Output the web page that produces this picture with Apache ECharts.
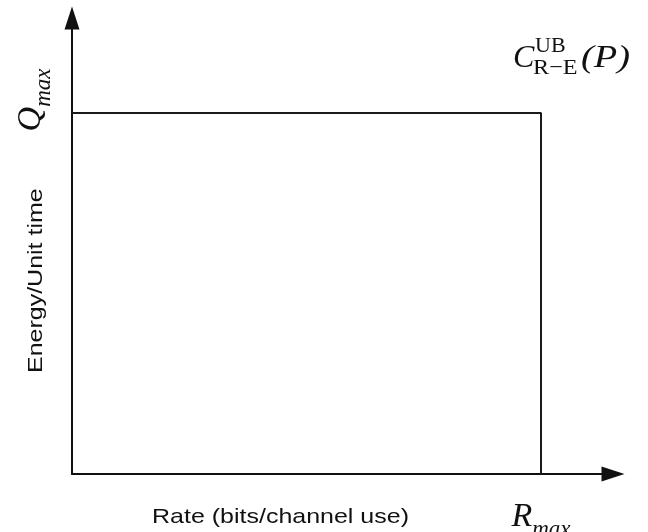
<!DOCTYPE html>
<html>
<head>
<meta charset="utf-8">
<script src="https://cdn.jsdelivr.net/npm/echarts@6/dist/echarts.min.js"></script>
<style>
  html, body { margin: 0; padding: 0; background: #fff; }
  #main { width: 648px; height: 532px; }
</style>
</head>
<body>
<div id="main"></div>
<script>
// rate-energy region, normalised so that Rmax = 1 and Qmax = 1
var rateMax = 1;
var energyMax = 1;
var boundaryRate = [0, rateMax, rateMax];
var boundaryEnergy = [energyMax, energyMax, 0];
// the only labelled ticks
var xTicks = [rateMax];
var yTicks = [energyMax];

var axisColor = "#111";
var serif = "Liberation Serif";
var stretch = 1.19; // the original text is drawn a bit wide

var tickRich = {
  v: { fontFamily: serif, fontStyle: "italic", fontSize: 34, color: "#111", verticalAlign: "bottom" },
  s: { fontFamily: serif, fontStyle: "italic", fontSize: 23, color: "#111", verticalAlign: "bottom", padding: [0, 0, -7, 0] }
};

var myChart = echarts.init(document.getElementById("main"));
myChart.setOption({
  backgroundColor: "#fff",
  animation: false,
  grid: { left: 72, right: 35, top: 18, bottom: 58, outerBoundsMode: "none" },
  xAxis: {
    type: "value",
    min: 0,
    max: 1.1535,
    splitLine: { show: false },
    axisTick: { show: false },
    axisLine: {
      lineStyle: { color: axisColor, width: 2 },
      symbol: ["none", "triangle"],
      symbolSize: [15, 23]
    },
    axisLabel: {
      customValues: xTicks,
      margin: 26,
      formatter: function () { return "{v|R}{s|max}"; },
      rich: tickRich
    }
  },
  yAxis: {
    type: "value",
    min: 0,
    max: 1.263,
    splitLine: { show: false },
    axisTick: { show: false },
    axisLine: {
      lineStyle: { color: axisColor, width: 2 },
      symbol: ["none", "triangle"],
      symbolSize: [15, 23]
    },
    axisLabel: {
      customValues: yTicks,
      rotate: 90,
      margin: 24,
      padding: [0, 0, 0, 26],
      formatter: function () { return "{v|Q}{s|max}"; },
      rich: tickRich
    }
  },
  series: [
    {
      type: "line",
      data: boundaryRate.map(function (r, i) { return [r, boundaryEnergy[i]]; }),
      showSymbol: false,
      symbol: "none",
      lineStyle: { color: "#1a1a1a", width: 2 },
      silent: true
    }
  ],
  graphic: [
    {
      type: "text",
      x: 152,
      y: 507,
      scaleX: stretch,
      style: { text: "Rate (bits/channel use)", font: "21px 'Liberation Sans'", fill: "#111", align: "left", verticalAlign: "top" }
    },
    {
      type: "text",
      x: 26,
      y: 373,
      rotation: Math.PI / 2,
      scaleX: stretch,
      style: { text: "Energy/Unit time", font: "21px 'Liberation Sans'", fill: "#111", align: "left", verticalAlign: "top" }
    },
    // C^UB_{R-E}(P)
    {
      type: "text",
      x: 513,
      y: 43,
      style: { text: "C", font: "italic 32px 'Liberation Serif'", fill: "#111", align: "left", verticalAlign: "top" }
    },
    {
      type: "text",
      x: 535,
      y: 35,
      style: { text: "UB", font: "22px 'Liberation Serif'", fill: "#111", align: "left", verticalAlign: "top" }
    },
    {
      type: "text",
      x: 533,
      y: 57,
      scaleX: 1.1,
      style: { text: "R\u2212E", font: "22px 'Liberation Serif'", fill: "#111", align: "left", verticalAlign: "top" }
    },
    {
      type: "text",
      x: 581,
      y: 43,
      scaleX: 1.2,
      style: { text: "(P)", font: "italic 32px 'Liberation Serif'", fill: "#111", align: "left", verticalAlign: "top" }
    }
  ]
});
</script>
</body>
</html>
